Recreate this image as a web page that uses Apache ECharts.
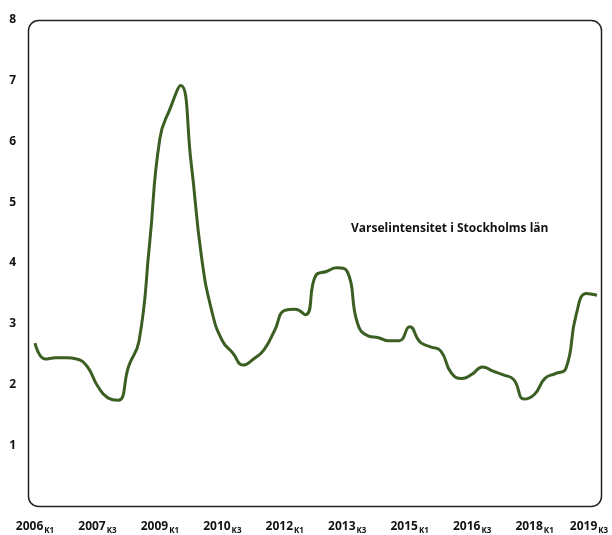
<!DOCTYPE html>
<html>
<head>
<meta charset="utf-8">
<script src="https://cdn.jsdelivr.net/npm/echarts@6/dist/echarts.min.js"></script>
<style>
  html, body { margin: 0; padding: 0; background: #fff; }
  #chart { width: 612px; height: 535px; }
</style>
</head>
<body>
<div id="chart"></div>
<script>
// kvartal 2006K1 .. 2019K3
var years = [2006, 2007, 2008, 2009, 2010, 2011, 2012, 2013, 2014, 2015, 2016, 2017, 2018, 2019];
var quarters = [];
years.forEach(function (y) {
    for (var q = 1; q <= 4; q++) {
        if (y === 2019 && q > 3) break;
        quarters.push(y + 'K' + q);
    }
});

var varsel = [
    2.68, 2.42, 2.44, 2.44, 2.42, 2.30, 1.98, 1.78, 1.74, 2.30,
    2.72, 4.30, 6.05, 6.55, 6.92, 5.65, 4.10, 3.20, 2.72, 2.52,
    2.32, 2.42, 2.57, 2.88, 3.22, 3.24, 3.15, 3.80, 3.86, 3.92,
    3.86, 3.00, 2.80, 2.77, 2.72, 2.72, 2.95, 2.70, 2.62, 2.55,
    2.19, 2.10, 2.17, 2.29, 2.22, 2.16, 2.08, 1.76, 1.84, 2.10,
    2.18, 2.26, 3.15, 3.50, 3.47
];

var yTicks = [1, 2, 3, 4, 5, 6, 7, 8];
var seriesName = 'Varselintensitet i Stockholms län';

var chart = echarts.init(document.getElementById('chart'));
var option = {
    animation: false,
    backgroundColor: '#fff',
    textStyle: { fontFamily: 'Open Sans' },
    grid: { left: 35, right: 15, top: 20, bottom: 28 },
    title: {
        text: seriesName,
        left: 346,
        top: 218,
        textStyle: { fontSize: 12, fontWeight: 'bold', color: '#111', fontFamily: 'Open Sans' }
    },
    graphic: [
        {
            type: 'rect',
            shape: { x: 28.5, y: 20.5, width: 573, height: 486, r: 10 },
            style: { fill: 'none', stroke: '#222', lineWidth: 1.5 },
            z: 0
        }
    ],
    xAxis: {
        type: 'category',
        data: quarters,
        boundaryGap: false,
        axisLine: { show: false },
        axisTick: { show: false },
        axisLabel: {
            interval: 5,
            margin: 12,
            formatter: function (v, i) {
                var y = v.slice(0, 4), k = v.slice(4);
                if (i === quarters.length - 1) return '{y|' + y + '}{e|' + k + '}';
                return '{y|' + y + '}{s|' + k + '}';
            },
            rich: {
                y: { fontSize: 12, fontWeight: 'bold', color: '#111', fontFamily: 'Open Sans' },
                s: { fontSize: 8, fontWeight: 'bold', color: '#111', fontFamily: 'Open Sans', padding: [9, 0, 0, 1] },
                e: { fontSize: 8, fontWeight: 'bold', color: '#111', fontFamily: 'Open Sans', padding: [9, 16, 0, 1] }
            }
        },
        splitLine: { show: false }
    },
    yAxis: {
        type: 'value',
        min: 0,
        max: 8,
        interval: 1,
        axisLine: { show: false },
        axisTick: { show: false },
        splitLine: { show: false },
        axisLabel: {
            margin: 19,
            fontSize: 12,
            fontWeight: 'bold',
            color: '#111',
            fontFamily: 'Open Sans',
            formatter: function (v) { return yTicks.indexOf(v) >= 0 ? String(v) : ''; }
        }
    },
    series: [
        {
            name: seriesName,
            type: 'line',
            data: varsel,
            smooth: 0.5,
            showSymbol: false,
            lineStyle: { color: '#3b5e22', width: 3 },
            z: 3
        }
    ]
};
chart.setOption(option);
</script>
</body>
</html>
